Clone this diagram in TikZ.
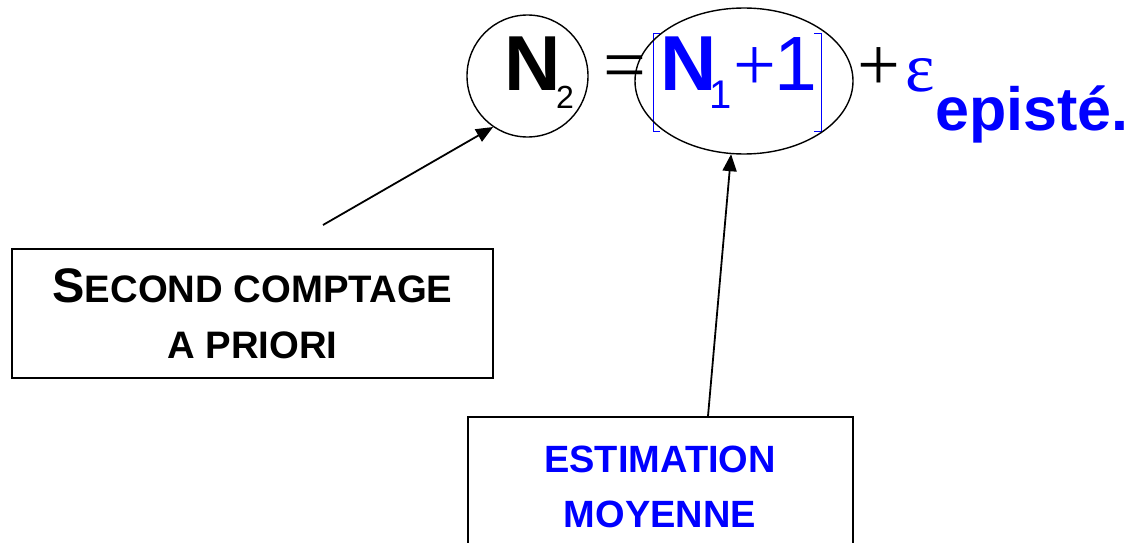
\documentclass[tikz,border=0pt]{standalone}
\usepackage{fontspec}
\setmainfont{Liberation Sans}
\newfontfamily\serifeps{Liberation Serif}
\usetikzlibrary{shapes.geometric,arrows.meta}
\definecolor{eqblue}{RGB}{0,0,255}
\begin{document}
\begin{tikzpicture}[x=1pt,y=-1pt,
  ring/.style={draw,ellipse,line width=1.4pt,inner sep=0pt},
  boxnode/.style={draw,rectangle,line width=1.8pt,inner sep=0pt},
  pointer/.style={line width=1.8pt,-{Triangle[length=17pt,width=14pt]}},
  txt/.style={inner sep=0pt,anchor=base west},
  ctxt/.style={inner sep=0pt,anchor=base},
  bracket/.style={eqblue,line width=1pt},
]
\useasboundingbox (0,0) rectangle (1133,543);
\clip (0,0) rectangle (1133,543);
% equation
\node[txt] (n2) at (504,91) {\fontsize{78}{78}\selectfont\bfseries N};
\node[txt] (s2) at (556,108) {\fontsize{32}{32}\selectfont 2};
\node[txt] (eq) at (603,91) {\fontsize{76}{76}\selectfont\serifeps =};
\node[txt,text=eqblue] (n1) at (660,91) {\fontsize{78}{78}\selectfont\bfseries N};
\node[txt,text=eqblue] (s1) at (709,108) {\fontsize{40}{40}\selectfont 1};
\node[txt,text=eqblue] (pl1) at (733,91) {\fontsize{76}{76}\selectfont\serifeps +};
\node[txt,text=eqblue] (one) at (774,91) {\fontsize{77}{77}\selectfont 1};
\node[txt] (pl2) at (857,91) {\fontsize{76}{76}\selectfont\serifeps +};
\node[txt,text=eqblue] (eps) at (905,92) {\fontsize{70}{70}\selectfont\serifeps ε};
\node[txt,text=eqblue] (epi) at (935,130) {\fontsize{61}{61}\selectfont\bfseries episté.};
\draw[bracket] (660,34) -- (653,34) -- (653,131) -- (660,131);
\draw[bracket] (814,34) -- (821,34) -- (821,131) -- (814,131);
% rings
\node[ring,minimum width=121pt,minimum height=122pt] (e1) at (527.5,76) {};
\node[ring,minimum width=218pt,minimum height=146pt] (e2) at (744,81) {};
% boxes
\node[boxnode,minimum width=481pt,minimum height=129pt] (b1) at (252.5,313.5) {};
\node[ctxt] (b1a) at (252.5,302) {\bfseries\fontsize{48.5}{48.5}\selectfont S\fontsize{38.3}{38.3}\selectfont ECOND COMPTAGE};
\node[ctxt] (b1b) at (252.5,358) {\bfseries\fontsize{38.3}{38.3}\selectfont A PRIORI};
\node[boxnode,minimum width=385pt,minimum height=200pt] (b2) at (660.5,517) {};
\node[ctxt,text=eqblue] (b2a) at (660,472) {\bfseries\fontsize{38}{38}\selectfont ESTIMATION};
\node[ctxt,text=eqblue] (b2b) at (660,527) {\bfseries\fontsize{38}{38}\selectfont MOYENNE};
% connectors
\coordinate (c1) at (323,225);
\draw[pointer] (c1) -- (e1.236.7);
\draw[pointer] ([xshift=47.5pt]b2.north) -- (e2.260.7);
\end{tikzpicture}
\end{document}
